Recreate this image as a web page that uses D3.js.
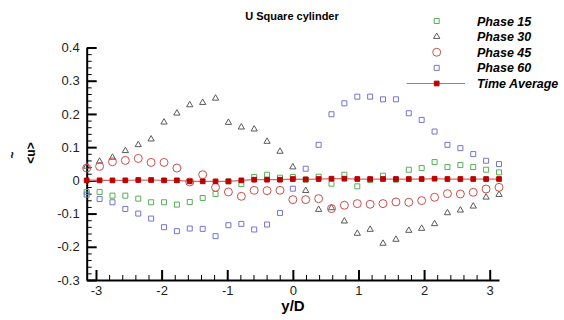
<!DOCTYPE html>
<html>
<head>
<meta charset="utf-8">
<script src="https://cdn.jsdelivr.net/npm/d3@7"></script>
<style>
  html, body { margin: 0; padding: 0; background: #fff; }
  svg { display: block; font-family: Arial, "Liberation Sans", sans-serif; }
</style>
</head>
<body>
<svg id="chart" width="564" height="320"></svg>
<script>
// Sample positions across the wake, y/D from -pi to pi
const yD = [-3.142, -2.945, -2.749, -2.553, -2.356, -2.160, -1.963, -1.767, -1.571,
            -1.374, -1.178, -0.982, -0.785, -0.589, -0.393, -0.196, 0.000,
             0.196,  0.393,  0.589,  0.785,  0.982,  1.178,  1.374,  1.571,
             1.767,  1.963,  2.160,  2.356,  2.553,  2.749,  2.945,  3.142];

const phase15 = [-0.035, -0.035, -0.046, -0.046, -0.055, -0.066, -0.066, -0.073, -0.065,
                 -0.053, -0.041, -0.003, -0.011, 0.010, 0.017, 0.008, 0.010,
                  0.002, 0.011, -0.010, 0.017, -0.018, 0.001, 0.014, 0.002,
                  0.032, 0.037, 0.055, 0.040, 0.046, 0.040, 0.032, 0.024];

const phase30 = [0.042, 0.057, 0.069, 0.089, 0.107, 0.124, 0.175, 0.202, 0.227,
                 0.234, 0.247, 0.174, 0.160, 0.154, 0.117, 0.087, 0.040,
                 -0.031, -0.088, -0.083, -0.123, -0.160, -0.148, -0.190, -0.178,
                 -0.151, -0.145, -0.131, -0.098, -0.090, -0.078, -0.051, -0.043];

const phase45 = [0.037, 0.042, 0.056, 0.060, 0.066, 0.054, 0.054, 0.037, -0.005,
                 0.017, -0.021, -0.035, -0.048, -0.030, -0.031, -0.030, -0.058,
                 -0.058, -0.055, -0.085, -0.075, -0.070, -0.072, -0.070, -0.065,
                 -0.066, -0.061, -0.051, -0.040, -0.041, -0.036, -0.026, -0.021];

const phase60 = [-0.043, -0.056, -0.066, -0.086, -0.100, -0.115, -0.141, -0.153, -0.145,
                 -0.146, -0.168, -0.135, -0.131, -0.148, -0.133, -0.098, -0.025,
                  0.035, 0.107, 0.199, 0.232, 0.252, 0.252, 0.244, 0.244,
                  0.202, 0.182, 0.147, 0.107, 0.097, 0.079, 0.059, 0.049];

const timeAverage = [0.000, 0.000, 0.000, 0.000, 0.001, 0.001, 0.000, 0.000, -0.003,
                     -0.003, -0.003, -0.003, 0.000, 0.002, 0.002, 0.002, 0.004,
                      0.003, 0.004, 0.005, 0.005, 0.004, 0.004, 0.004, 0.004,
                      0.004, 0.004, 0.005, 0.004, 0.004, 0.004, 0.004, 0.004];

const xTicks = [-3, -2, -1, 0, 1, 2, 3];
const xTickLabels = ["-3", "-2", "-1", "0", "1", "2", "3"];
const yTicks = [-0.3, -0.2, -0.1, 0, 0.1, 0.2, 0.3, 0.4];
const yTickLabels = ["-0.3", "-0.2", "-0.1", "0", "0.1", "0.2", "0.3", "0.4"];
const seriesNames = ["Phase 15", "Phase 30", "Phase 45", "Phase 60", "Time Average"];

const svg = d3.select("#chart");

const x = d3.scaleLinear().domain([-Math.PI, Math.PI]).range([86.7, 499]);
const y = d3.scaleLinear().domain([-0.3, 0.4]).range([280, 47.5]);

// Minor ticks
const xMinor = d3.range(-3.0, 3.01, 0.2).map(v => +v.toFixed(2)).filter(v => Math.abs(v - Math.round(v)) > 1e-6);
const yMinor = d3.range(-0.3, 0.401, 0.02).map(v => +v.toFixed(3)).filter(v => Math.abs(v * 10 - Math.round(v * 10)) > 1e-6);

svg.append("g")
  .attr("transform", `translate(0,${y.range()[0]})`)
  .call(d3.axisBottom(x).tickValues(xMinor).tickSize(-5).tickFormat(""))
  .call(g => g.select(".domain").remove())
  .call(g => g.selectAll("line").attr("stroke", "#000").attr("stroke-width", 1));

svg.append("g")
  .attr("transform", `translate(${x.range()[0]},0)`)
  .call(d3.axisLeft(y).tickValues(yMinor).tickSize(-5).tickFormat(""))
  .call(g => g.select(".domain").remove())
  .call(g => g.selectAll("line").attr("stroke", "#000").attr("stroke-width", 1));

// Major axes
const xAxis = svg.append("g")
  .attr("transform", `translate(0,${y.range()[0]})`)
  .call(d3.axisBottom(x).tickValues(xTicks).tickSizeInner(-10).tickSizeOuter(0).tickPadding(6)
    .tickFormat((d, i) => xTickLabels[i]));
xAxis.select(".domain").attr("stroke", "#000").attr("stroke-width", 2);
xAxis.selectAll(".tick line").attr("stroke", "#000").attr("stroke-width", 2);
xAxis.selectAll(".tick text").attr("font-size", 13).attr("fill", "#222")
  .attr("font-family", "Arial, 'Liberation Sans', sans-serif");

const yAxis = svg.append("g")
  .attr("transform", `translate(${x.range()[0]},0)`)
  .call(d3.axisLeft(y).tickValues(yTicks).tickSizeInner(-10).tickSizeOuter(0).tickPadding(7)
    .tickFormat((d, i) => yTickLabels[i]));
yAxis.select(".domain").attr("stroke", "#000").attr("stroke-width", 2);
yAxis.selectAll(".tick line").attr("stroke", "#000").attr("stroke-width", 2);
yAxis.selectAll(".tick text").attr("font-size", 13).attr("fill", "#222")
  .attr("font-family", "Arial, 'Liberation Sans', sans-serif");

// Titles
svg.append("text")
  .attr("x", 292).attr("y", 20)
  .attr("text-anchor", "middle")
  .attr("font-size", 11).attr("font-weight", "bold")
  .text("U Square cylinder");

svg.append("text")
  .attr("x", 293).attr("y", 311)
  .attr("text-anchor", "middle")
  .attr("font-size", 15).attr("font-weight", "bold")
  .text("y/D");

svg.append("text")
  .attr("transform", "translate(35,153) rotate(-90)")
  .attr("text-anchor", "middle")
  .attr("font-size", 12).attr("font-weight", "bold")
  .text("<u>");
svg.append("text")
  .attr("transform", "translate(17,155) rotate(-90)")
  .attr("text-anchor", "middle")
  .attr("font-size", 12).attr("font-weight", "bold")
  .text("~");

// Marker styles
const styles = [
  { data: phase15, type: d3.symbolSquare, size: 25, stroke: "#55b055", fill: "none" },
  { data: phase30, type: d3.symbolTriangle, size: 17, stroke: "#5a5a5a", fill: "none" },
  { data: phase45, type: d3.symbolCircle, size: 50, stroke: "#c8504a", fill: "none" },
  { data: phase60, type: d3.symbolSquare, size: 25, stroke: "#7474d4", fill: "none" },
  { data: timeAverage, type: d3.symbolSquare, size: 22, stroke: "#b80000", fill: "#c00000" }
];

// Time-average connecting line
svg.append("path")
  .datum(timeAverage)
  .attr("fill", "none")
  .attr("stroke", "#d46a6a")
  .attr("stroke-width", 1.2)
  .attr("d", d3.line().x((d, i) => x(yD[i])).y(d => y(d)));

styles.forEach(s => {
  svg.append("g")
    .selectAll("path")
    .data(s.data)
    .join("path")
    .attr("transform", (d, i) => `translate(${x(yD[i])},${y(d)})`)
    .attr("d", d3.symbol().type(s.type).size(s.size))
    .attr("fill", s.fill)
    .attr("stroke", s.stroke)
    .attr("stroke-width", 1);
});

// Legend
const legend = svg.append("g");
const legendY = d3.scaleLinear().domain([0, 4]).range([21, 83.5]);
seriesNames.forEach((name, i) => {
  const s = styles[i];
  const cy = legendY(i);
  if (i === 4) {
    legend.append("line")
      .attr("x1", 406.5).attr("x2", 465).attr("y1", cy).attr("y2", cy)
      .attr("stroke", "#d46a6a").attr("stroke-width", 1.2);
  }
  legend.append("path")
    .attr("transform", `translate(436.7,${cy})`)
    .attr("d", d3.symbol().type(s.type).size(s.size))
    .attr("fill", s.fill).attr("stroke", s.stroke).attr("stroke-width", 1);
  legend.append("text")
    .attr("x", 477).attr("y", cy + 4.5)
    .attr("font-size", 12.5).attr("font-weight", "bold").attr("font-style", "italic")
    .text(name);
});
</script>
</body>
</html>
